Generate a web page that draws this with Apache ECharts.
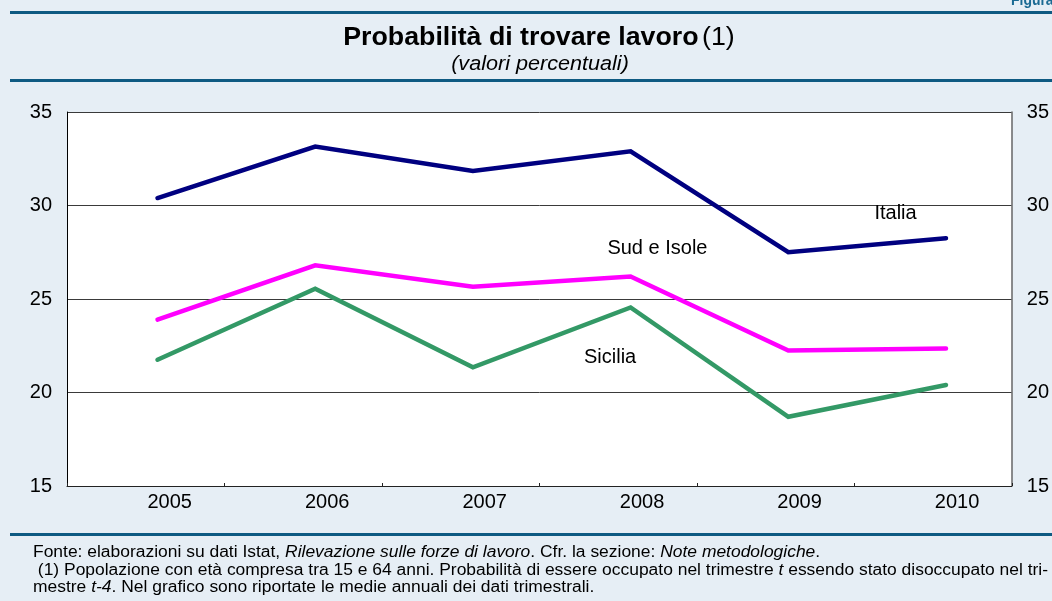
<!DOCTYPE html>
<html>
<head>
<meta charset="utf-8">
<script src="https://cdn.jsdelivr.net/npm/echarts@6/dist/echarts.min.js"></script>
<style>
html,body{margin:0;padding:0;background:#E6EEF5;}
#c{width:1052px;height:601px;}
</style>
</head>
<body>
<div id="c"></div>
<script>
// ---- data ----
const categories = ['2005', '2006', '2007', '2008', '2009', '2010'];
const yearValues = [2005, 2006, 2007, 2008, 2009, 2010];
const italia   = [30.4, 33.15, 31.85, 32.9, 27.5, 28.25];
const sudIsole = [23.9, 26.8, 25.65, 26.2, 22.25, 22.35];
const sicilia  = [21.75, 25.55, 21.35, 24.55, 18.7, 20.4];
const seriesNames = ['Italia', 'Sud e Isole', 'Sicilia'];
// label anchor positions in data units [year, value]
const labelItalia = [2009.68, 29.55];
const labelSud = [2008.17, 27.7];
const labelSicilia = [2007.87, 21.85];
const yMin = 15, yMax = 35, yStep = 5;

const FONT = 'Liberation Sans, Arial, sans-serif';
const RULE = '#0E5A82';

function pairs(vals) { return yearValues.map((y, i) => [y, vals[i]]); }
function mk(name, coord) {
  return {
    silent: true, symbol: 'circle', symbolSize: 0,
    label: { show: true, position: 'inside', formatter: '{b}', color: '#000', fontSize: 20, fontFamily: FONT },
    data: [{ name: name, coord: coord }]
  };
}
const footRich = {
  r: { fontSize: 16, fill: '#000', fontFamily: FONT },
  i: { fontSize: 16, fill: '#000', fontStyle: 'italic', fontFamily: FONT }
};
const FOOT_SX = 1.09;

const chart = echarts.init(document.getElementById('c'), null, { renderer: 'canvas' });
chart.setOption({
  animation: false,
  backgroundColor: '#E6EEF5',
  textStyle: { fontFamily: FONT },
  grid: { left: 67, right: 40, top: 112, bottom: 115, show: true, backgroundColor: '#fff', borderWidth: 0 },
  xAxis: [
    {
      type: 'category', data: categories, boundaryGap: true,
      axisLine: { lineStyle: { color: '#222', width: 1 } },
      axisTick: { show: true, inside: true, length: 3, lineStyle: { color: '#222' } },
      axisLabel: { fontSize: 20, color: '#000', margin: 6, padding: [0, 0, 0, 48], fontFamily: FONT },
      splitLine: { show: false }
    },
    {
      type: 'value', min: 2004.426, max: 2010.417, show: false,
      axisLine: { show: false }, splitLine: { show: false }
    }
  ],
  yAxis: [
    {
      type: 'value', min: yMin, max: yMax, interval: yStep, position: 'left',
      axisLine: { show: true, lineStyle: { color: '#000', width: 1 } },
      axisTick: { show: false },
      axisLabel: { fontSize: 20, color: '#000', margin: 15, fontFamily: FONT },
      splitLine: { show: true, lineStyle: { color: '#3a3a3a', width: 1 } }
    },
    {
      type: 'value', min: yMin, max: yMax, interval: yStep, position: 'right',
      axisLine: { show: true, lineStyle: { color: '#666', width: 1.5 } },
      axisTick: { show: false },
      axisLabel: { fontSize: 20, color: '#000', margin: 15, fontFamily: FONT },
      splitLine: { show: false }
    }
  ],
  series: [
    {
      name: seriesNames[0], type: 'line', xAxisIndex: 1, yAxisIndex: 0,
      data: pairs(italia), symbol: 'none',
      lineStyle: { color: '#000080', width: 4.5, cap: 'round', join: 'miter' },
      markPoint: mk(seriesNames[0], labelItalia)
    },
    {
      name: seriesNames[1], type: 'line', xAxisIndex: 1, yAxisIndex: 0,
      data: pairs(sudIsole), symbol: 'none',
      lineStyle: { color: '#FF00FF', width: 4.5, cap: 'round', join: 'miter' },
      markPoint: mk(seriesNames[1], labelSud)
    },
    {
      name: seriesNames[2], type: 'line', xAxisIndex: 1, yAxisIndex: 0,
      data: pairs(sicilia), symbol: 'none',
      lineStyle: { color: '#339966', width: 4.5, cap: 'round', join: 'miter' },
      markPoint: mk(seriesNames[2], labelSicilia)
    }
  ],
  graphic: [
    { type: 'rect', shape: { x: 10, y: 11, width: 1042, height: 3 }, style: { fill: RULE }, silent: true },
    { type: 'rect', shape: { x: 10, y: 79, width: 1042, height: 3 }, style: { fill: RULE }, silent: true },
    { type: 'rect', shape: { x: 10, y: 533, width: 1042, height: 3 }, style: { fill: RULE }, silent: true },
    { type: 'text', x: 1011, y: 9, scaleX: 0.82, silent: true,
      style: { text: 'Figura 1', textAlign: 'left', textVerticalAlign: 'bottom', fill: '#1B6A93',
               font: 'bold 17px ' + FONT } },
    { type: 'text', x: 539, y: 38, scaleX: 1.07, silent: true,
      style: {
        text: '{b|Probabilità di trovare lavoro} {n|(1)}',
        textAlign: 'center', textVerticalAlign: 'middle',
        rich: {
          b: { fontSize: 25, fontWeight: 'bold', fill: '#000', fontFamily: FONT },
          n: { fontSize: 25, fontWeight: 'normal', fill: '#000', fontFamily: FONT }
        }
      } },
    { type: 'text', x: 540, y: 64, scaleX: 1.08, silent: true,
      style: { text: '(valori percentuali)', textAlign: 'center', textVerticalAlign: 'middle', fill: '#000',
               font: 'italic 20px ' + FONT } },
    { type: 'text', x: 33, y: 553, scaleX: FOOT_SX, silent: true,
      style: {
        text: '{r|Fonte: elaborazioni su dati Istat, }{i|Rilevazione sulle forze di lavoro}{r|. Cfr. la sezione: }{i|Note metodologiche}{r|.}',
        textAlign: 'left', textVerticalAlign: 'middle', rich: footRich
      } },
    { type: 'text', x: 33, y: 570.5, scaleX: FOOT_SX, silent: true,
      style: {
        text: '{r| (1) Popolazione con età compresa tra 15 e 64 anni. Probabilità di essere occupato nel trimestre }{i|t}{r| essendo stato disoccupato nel tri-}',
        textAlign: 'left', textVerticalAlign: 'middle', rich: footRich
      } },
    { type: 'text', x: 33, y: 588, scaleX: FOOT_SX, silent: true,
      style: {
        text: '{r|mestre }{i|t-4}{r|. Nel grafico sono riportate le medie annuali dei dati trimestrali.}',
        textAlign: 'left', textVerticalAlign: 'middle', rich: footRich
      } }
  ]
});
</script>
</body>
</html>
